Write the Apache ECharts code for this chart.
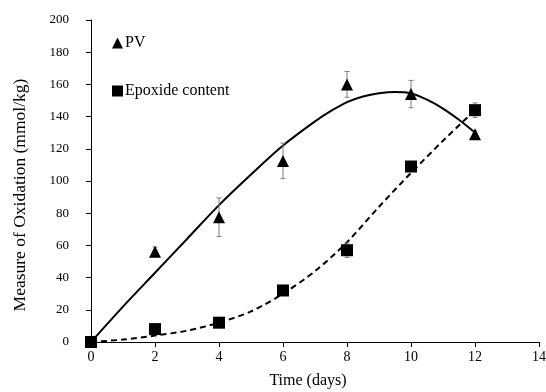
<!DOCTYPE html>
<html>
<head>
<meta charset="utf-8">
<script src="https://cdn.jsdelivr.net/npm/echarts@6/dist/echarts.min.js"></script>
<style>
  html, body { margin: 0; padding: 0; background: #fff; }
  #chart { width: 546px; height: 392px; }
</style>
</head>
<body>
<div id="chart"></div>
<script>
// measured points
const days = [0, 2, 4, 6, 8, 10, 12];
const pvValues = [0, 56, 77.5, 112.5, 160, 154, 129];
const pvErrors = [0, 3, 12, 11, 8, 8.5, 2];
const epoxideValues = [0, 8, 12, 32, 57, 109, 144];
const epoxideErrors = [0, 1, 1, 1, 4.5, 2, 4.5];

// trend lines
const pvFitDays = [0, 1, 2, 3, 4, 5, 6, 7, 7.5, 8, 8.5, 9, 9.5, 10, 10.5, 11, 11.5, 12];
const pvFit = [0, 22, 43, 64, 85, 104, 122, 137, 143.5, 149, 152.5, 154.5, 155.3, 154.5, 150.5, 145, 138, 130];
const epoxideFitDays = [0, 1, 2, 3, 4, 5, 6, 7, 8, 9, 10, 11, 12];
const epoxideFit = [0, 1.5, 4, 7, 12, 19, 30, 44, 62, 84, 105, 125, 144];

const FONT = "Liberation Serif";

function pairs(xs, ys) {
  return xs.map((x, i) => [x, ys[i]]);
}

function errorData(values, errors) {
  return days.map((d, i) => [d, values[i] - errors[i], values[i] + errors[i]]);
}

function renderErrorBar(params, api) {
  const x = api.value(0);
  const low = api.coord([x, api.value(1)]);
  const high = api.coord([x, api.value(2)]);
  const cap = 2.5;
  const style = { stroke: "#7f7f7f", lineWidth: 1 };
  return {
    type: "group",
    children: [
      { type: "line", shape: { x1: high[0], y1: high[1], x2: low[0], y2: low[1] }, style: style },
      { type: "line", shape: { x1: high[0] - cap, y1: high[1], x2: high[0] + cap, y2: high[1] }, style: style },
      { type: "line", shape: { x1: low[0] - cap, y1: low[1], x2: low[0] + cap, y2: low[1] }, style: style },
    ],
  };
}

const chart = echarts.init(document.getElementById("chart"));

const option = {
  animation: false,
  textStyle: { fontFamily: FONT },
  grid: { left: 91, right: 7, top: 20, bottom: 50, containLabel: false, outerBoundsMode: "none" },
  legend: {
    data: ["PV", "Epoxide content"],
    orient: "vertical",
    left: 112,
    top: 35,
    padding: 0,
    itemGap: 32,
    itemWidth: 11,
    itemHeight: 11,
    textStyle: { fontFamily: FONT, fontSize: 16, color: "#000", padding: [0, 0, 0, -3] },
  },
  xAxis: {
    type: "value",
    min: 0,
    max: 14,
    interval: 2,
    name: "Time (days)",
    nameLocation: "middle",
    nameGap: 31,
    nameTextStyle: { fontFamily: FONT, fontSize: 16, color: "#000", padding: [0, 14, 0, 0] },
    axisLine: { lineStyle: { color: "#000", width: 1 } },
    axisTick: { show: true, length: 5, lineStyle: { color: "#000" } },
    axisLabel: { fontFamily: FONT, fontSize: 14, color: "#000", margin: 8 },
    splitLine: { show: false },
  },
  yAxis: {
    type: "value",
    min: 0,
    max: 200,
    interval: 20,
    name: "Measure of Oxidation (mmol/kg)",
    nameLocation: "middle",
    nameGap: 62,
    nameTextStyle: { fontFamily: FONT, fontSize: 17.5, color: "#000", padding: [0, 28, 0, 0] },
    axisLine: { show: true, lineStyle: { color: "#000", width: 1 } },
    axisTick: { show: true, length: 5, lineStyle: { color: "#000" } },
    axisLabel: { fontFamily: FONT, fontSize: 13, color: "#000", margin: 22 },
    splitLine: { show: false },
  },
  series: [
    {
      name: "PV fit",
      type: "line",
      data: pairs(pvFitDays, pvFit),
      smooth: 0.3,
      symbol: "none",
      lineStyle: { color: "#000", width: 2 },
      z: 2,
    },
    {
      name: "Epoxide fit",
      type: "line",
      data: pairs(epoxideFitDays, epoxideFit),
      smooth: 0.3,
      symbol: "none",
      lineStyle: { color: "#000", width: 2, type: [6, 4] },
      z: 2,
    },
    {
      name: "PV error",
      type: "custom",
      renderItem: renderErrorBar,
      data: errorData(pvValues, pvErrors),
      encode: { x: 0, y: [1, 2] },
      z: 3,
    },
    {
      name: "Epoxide error",
      type: "custom",
      renderItem: renderErrorBar,
      data: errorData(epoxideValues, epoxideErrors),
      encode: { x: 0, y: [1, 2] },
      z: 3,
    },
    {
      name: "PV",
      type: "scatter",
      data: pairs(days, pvValues),
      symbol: "triangle",
      symbolSize: 12,
      itemStyle: { color: "#000", opacity: 1 },
      z: 4,
    },
    {
      name: "Epoxide content",
      type: "scatter",
      data: pairs(days, epoxideValues),
      symbol: "rect",
      symbolSize: 12,
      itemStyle: { color: "#000", opacity: 1 },
      z: 4,
    },
  ],
};

chart.setOption(option);
</script>
</body>
</html>
